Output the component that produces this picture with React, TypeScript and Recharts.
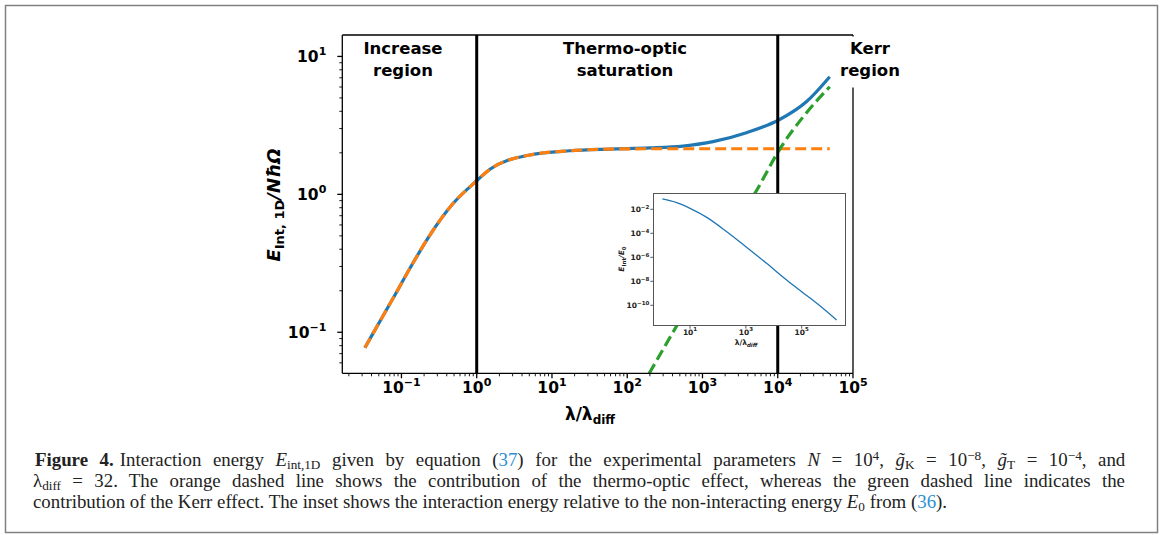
import React, { useLayoutEffect, useRef, useState } from "react";
import { LineChart, Line, XAxis, YAxis, ReferenceLine } from "recharts";

// main panel: lambda / lambda_diff  ->  E_int,1D / N hbar Omega
const totalLambda = [0.0327, 0.0423, 0.0741, 0.132, 0.239, 0.488, 1.0, 1.5, 5.1, 17.3, 58.7, 200, 550, 1380, 3840, 10300, 24000, 49100];
const totalEnergy = [0.0772, 0.099, 0.169, 0.296, 0.507, 0.861, 1.255, 1.52, 1.93, 2.07, 2.13, 2.17, 2.24, 2.41, 2.8, 3.46, 4.69, 7.13];

const thermoLambda = [0.0327, 0.0423, 0.0741, 0.132, 0.239, 0.488, 1.0, 1.5, 5.1, 17.3, 58.7, 200, 1380, 10300, 49100];
const thermoEnergy = [0.0772, 0.099, 0.169, 0.296, 0.507, 0.861, 1.255, 1.52, 1.93, 2.07, 2.13, 2.14, 2.14, 2.14, 2.14];

const kerrLambda = [195, 457, 1000, 3160, 5250, 10700, 22400, 49100];
const kerrEnergy = [0.0501, 0.112, 0.234, 0.684, 1.07, 2.14, 3.72, 6.03];

// inset: E_int / E_0
const insetLambda = [1.02, 3.33, 10, 39.8, 207, 1000, 5500, 28800, 100000, 347000, 1780000];
const insetRatio = [0.0724, 0.0355, 0.012, 2.14e-3, 1.35e-4, 7.6e-6, 3.16e-7, 1.29e-8, 1.35e-9, 1.48e-10, 6.0e-12];

const regionLines = [
  ["Increase", "region"],
  ["Thermo-optic", "saturation"],
  ["Kerr", "region"],
];

const xMajor = [0.1, 1, 10, 100, 1000, 10000, 100000];
const yMajor = [0.1, 1, 10];
const insetXMajor = [10, 1000, 100000];
const insetYMajor = [1e-2, 1e-4, 1e-6, 1e-8, 1e-10];

const xDomain = [0.01637, 100000];
const yDomain = [0.0504, 14.3];
const insetXDomain = [0.484, 3550000];
const insetYDomain = [2.0e-12, 0.215];

const toRows = (xs: number[], ys: number[]) => xs.map((x, i) => ({ x, y: ys[i] }));
const totalData = toRows(totalLambda, totalEnergy);
const thermoData = toRows(thermoLambda, thermoEnergy);
const kerrData = toRows(kerrLambda, kerrEnergy);
const insetData = toRows(insetLambda, insetRatio);

function minorTicks(lo: number, hi: number) {
  const out: number[] = [];
  for (let k = -3; k < 6; k++)
    for (let m = 2; m <= 9; m++) {
      const v = m * Math.pow(10, k);
      if (v >= lo && v <= hi) out.push(v);
    }
  return out;
}
const xTicks = [...minorTicks(xDomain[0], xDomain[1]), ...xMajor].sort((a, b) => a - b);
const yTicks = [...minorTicks(yDomain[0], yDomain[1]), ...yMajor].sort((a, b) => a - b);

const FONT = "DejaVu Sans";
const expOf = (v: number) => Math.round(Math.log10(v));
const isMajor = (v: number) => Math.abs(Math.log10(v) - expOf(v)) < 1e-9;
const sup = (e: number) => (e < 0 ? "\u2212" + Math.abs(e) : String(e));

function MainXTick({ x, y, payload }: any) {
  const v = payload.value;
  const major = isMajor(v);
  return (
    <g>
      <line x1={x} x2={x} y1={y} y2={y + (major ? 5 : 3)} stroke="#000" strokeWidth={major ? 1.3 : 0.9} />
      {major && (
        <text x={x} y={y + 20} textAnchor="middle" fontFamily={FONT} fontWeight="bold" fontSize={15.5} fill="#000">
          10<tspan dy={-7} fontSize={11}>{sup(expOf(v))}</tspan>
        </text>
      )}
    </g>
  );
}

function MainYTick({ x, y, payload }: any) {
  const v = payload.value;
  const major = isMajor(v);
  return (
    <g>
      <line x1={x} x2={x - (major ? 5 : 3)} y1={y} y2={y} stroke="#000" strokeWidth={major ? 1.3 : 0.9} />
      {major && (
        <text x={x - 16} y={y + 6} textAnchor="end" fontFamily={FONT} fontWeight="bold" fontSize={15.5} fill="#000">
          10<tspan dy={-7} fontSize={11}>{sup(expOf(v))}</tspan>
        </text>
      )}
    </g>
  );
}

function InsetXTick({ x, y, payload }: any) {
  return (
    <g>
      <line x1={x} x2={x} y1={y} y2={y + 3} stroke="#333" strokeWidth={0.8} />
      <text x={x} y={y + 9} textAnchor="middle" fontFamily={FONT} fontWeight="bold" fontSize={7.5} fill="#222">
        10<tspan dy={-3.5} fontSize={5.5}>{sup(expOf(payload.value))}</tspan>
      </text>
    </g>
  );
}

function InsetYTick({ x, y, payload }: any) {
  return (
    <g>
      <line x1={x} x2={x - 3} y1={y} y2={y} stroke="#333" strokeWidth={0.8} />
      <text x={x - 4} y={y + 3} textAnchor="end" fontFamily={FONT} fontWeight="bold" fontSize={7.5} fill="#222">
        10<tspan dy={-3.5} fontSize={5.5}>{sup(expOf(payload.value))}</tspan>
      </text>
    </g>
  );
}

const LINK = "#2a8fd6";
const CAP_FONT = 18.5;
const SUB = 13;

// caption: glyph squeeze taken from the (unjustified) last line,
// the two justified lines get wider word spaces
function Caption() {
  const r1 = useRef<SVGTextElement>(null);
  const r2 = useRef<SVGTextElement>(null);
  const r3 = useRef<SVGTextElement>(null);
  const [fit, setFit] = useState({ g: 1, ws1: 0, ws2: 0 });
  useLayoutEffect(() => {
    const els = [r1.current, r2.current, r3.current] as SVGTextElement[];
    if (els.some((e) => !e)) return;
    const w = els.map((e) => e.getBBox().width);
    const n = els.map((e) => (e.textContent || "").split(" ").length - 1);
    if (w[2] <= 0) return;
    const g = 915 / w[2];
    const ws = (target: number, i: number) => Math.max(0, (target / g - w[i]) / Math.max(1, n[i]));
    setFit({ g, ws1: ws(1092, 0), ws2: ws(1093, 1) });
  }, []);
  const txt = { fontFamily: "Liberation Serif", fontSize: CAP_FONT, fill: "#222" } as any;
  return (
    <g>
      <g transform={`translate(35,466) scale(${fit.g},1)`}>
        <text ref={r1} {...txt} style={{ wordSpacing: fit.ws1 }}>
          <tspan fontWeight="bold">Figure 4.</tspan>
          <tspan dx={6}>Interaction energy </tspan>
          <tspan fontStyle="italic">E</tspan>
          <tspan dy={3} fontSize={SUB}>int,1D</tspan>
          <tspan dy={-3}> given by equation (</tspan>
          <tspan fill={LINK}>37</tspan>
          <tspan>) for the experimental parameters </tspan>
          <tspan fontStyle="italic">N</tspan>
          <tspan> = 10</tspan>
          <tspan dy={-6} fontSize={SUB}>4</tspan>
          <tspan dy={6}>, </tspan>
          <tspan fontStyle="italic">{"g\u0303"}</tspan>
          <tspan dy={3} fontSize={SUB}>K</tspan>
          <tspan dy={-3}> = 10</tspan>
          <tspan dy={-6} fontSize={SUB}>{"\u22128"}</tspan>
          <tspan dy={6}>, </tspan>
          <tspan fontStyle="italic">{"g\u0303"}</tspan>
          <tspan dy={3} fontSize={SUB}>T</tspan>
          <tspan dy={-3}> = 10</tspan>
          <tspan dy={-6} fontSize={SUB}>{"\u22124"}</tspan>
          <tspan dy={6}>, and</tspan>
        </text>
      </g>
      <g transform={`translate(33,487) scale(${fit.g},1)`}>
        <text ref={r2} {...txt} style={{ wordSpacing: fit.ws2 }}>
          <tspan>{"\u03BB"}</tspan>
          <tspan dy={3} fontSize={SUB}>diff</tspan>
          <tspan dy={-3}> = 32. The orange dashed line shows the contribution of the thermo-optic effect, whereas the green dashed line indicates the</tspan>
        </text>
      </g>
      <g transform={`translate(33,508) scale(${fit.g},1)`}>
        <text ref={r3} {...txt}>
          <tspan>contribution of the Kerr effect. The inset shows the interaction energy relative to the non-interacting energy </tspan>
          <tspan fontStyle="italic">E</tspan>
          <tspan dy={3} fontSize={SUB}>0</tspan>
          <tspan dy={-3}> from (</tspan>
          <tspan fill={LINK}>36</tspan>
          <tspan>).</tspan>
        </text>
      </g>
    </g>
  );
}

export default function App() {
  const regionX = [403, 625, 870];
  return (
    <div style={{ position: "absolute", left: 0, top: 0, width: 1163, height: 535, background: "#fff" }}>
      <div style={{ position: "absolute", left: 0, top: 0 }}>
        <LineChart width={880} height={420} margin={{ top: 35, right: 27, left: 0, bottom: 0 }}>
          <XAxis
            type="number"
            dataKey="x"
            scale="log"
            domain={xDomain}
            allowDataOverflow
            ticks={xTicks}
            interval={0}
            tickSize={0}
            tickMargin={0}
            tickLine={false}
            height={46.7}
            axisLine={{ stroke: "#000", strokeWidth: 1.3 }}
            tick={<MainXTick />}
          />
          <YAxis
            type="number"
            dataKey="y"
            scale="log"
            domain={yDomain}
            allowDataOverflow
            ticks={yTicks}
            interval={0}
            tickSize={0}
            tickMargin={0}
            tickLine={false}
            width={342.3}
            axisLine={{ stroke: "#000", strokeWidth: 1.3 }}
            tick={<MainYTick />}
          />
          <ReferenceLine y={yDomain[1]} stroke="#000" strokeWidth={1.3} />
          <ReferenceLine x={xDomain[1]} stroke="#000" strokeWidth={1.3} />
          <Line data={totalData} dataKey="y" type="monotone" stroke="#1f77b4" strokeWidth={3.2} dot={false} isAnimationActive={false} />
          <Line data={thermoData} dataKey="y" type="monotone" stroke="#ff7f0e" strokeWidth={3.2} strokeDasharray="11 5" dot={false} isAnimationActive={false} />
          <Line data={kerrData} dataKey="y" type="monotone" stroke="#2ca02c" strokeWidth={3.2} strokeDasharray="11 5" dot={false} isAnimationActive={false} />
          <ReferenceLine x={1} stroke="#000" strokeWidth={3} />
          <ReferenceLine x={10000} stroke="#000" strokeWidth={3} />
        </LineChart>
      </div>

      <svg width={1163} height={535} style={{ position: "absolute", left: 0, top: 0, pointerEvents: "none" }}>
        <rect x={5.5} y={5.5} width={1152} height={527} fill="none" stroke="#808080" strokeWidth={1.5} />
        <rect x={838} y={36.5} width={70} height={51} fill="#fff" />
        {regionLines.map((lines, i) => (
          <text key={i} textAnchor="middle" fontFamily={FONT} fontWeight="bold" fontSize={16.5} fill="#000">
            <tspan x={regionX[i]} y={54}>{lines[0]}</tspan>
            <tspan x={regionX[i]} y={76}>{lines[1]}</tspan>
          </text>
        ))}
        <text transform="translate(280,205) rotate(-90)" textAnchor="middle" fontFamily={FONT} fontWeight="bold" fontSize={18} fill="#000">
          <tspan fontStyle="italic">E</tspan>
          <tspan dy={4} fontSize={13}>Int, 1D</tspan>
          <tspan dy={-4} fontStyle="italic">/N{"\u0127"}{"\u03A9"}</tspan>
        </text>
        <text x={590} y={420} textAnchor="middle" fontFamily={FONT} fontWeight="bold" fontSize={17} fill="#000">
          {"\u03BB/\u03BB"}
          <tspan dy={4} fontSize={12}>diff</tspan>
        </text>
        <text transform="translate(624,259) rotate(-90)" textAnchor="middle" fontFamily={FONT} fontWeight="bold" fontSize={7.5} fill="#222">
          <tspan fontStyle="italic">E</tspan>
          <tspan dy={2} fontSize={5.5}>Int</tspan>
          <tspan dy={-2} fontStyle="italic">/E</tspan>
          <tspan dy={2} fontSize={5.5}>0</tspan>
        </text>
        <text x={746} y={345} textAnchor="middle" fontFamily={FONT} fontWeight="bold" fontSize={7.5} fill="#222">
          {"\u03BB/\u03BB"}
          <tspan dy={2} fontSize={5.5} fontStyle="italic">diff</tspan>
        </text>
        <Caption />
      </svg>

      <div
        style={{
          position: "absolute",
          left: 652.6,
          top: 192.6,
          width: 193.1,
          height: 133.8,
          boxSizing: "border-box",
          background: "#fff",
          border: "1.4px solid #555",
        }}
      />
      <div style={{ position: "absolute", left: 560, top: 180 }}>
        <LineChart width={300} height={175} margin={{ top: 13.3, right: 15, left: 0, bottom: 0 }}>
          <XAxis
            type="number"
            dataKey="x"
            scale="log"
            domain={insetXDomain}
            allowDataOverflow
            ticks={insetXMajor}
            interval={0}
            tickSize={0}
            tickMargin={0}
            tickLine={false}
            axisLine={false}
            height={29.3}
            tick={<InsetXTick />}
          />
          <YAxis
            type="number"
            dataKey="y"
            scale="log"
            domain={insetYDomain}
            allowDataOverflow
            ticks={insetYMajor}
            interval={0}
            tickSize={0}
            tickMargin={0}
            tickLine={false}
            axisLine={false}
            width={93.3}
            tick={<InsetYTick />}
          />
          <Line data={insetData} dataKey="y" type="monotone" stroke="#1f77b4" strokeWidth={1.3} dot={false} isAnimationActive={false} />
        </LineChart>
      </div>
    </div>
  );
}
